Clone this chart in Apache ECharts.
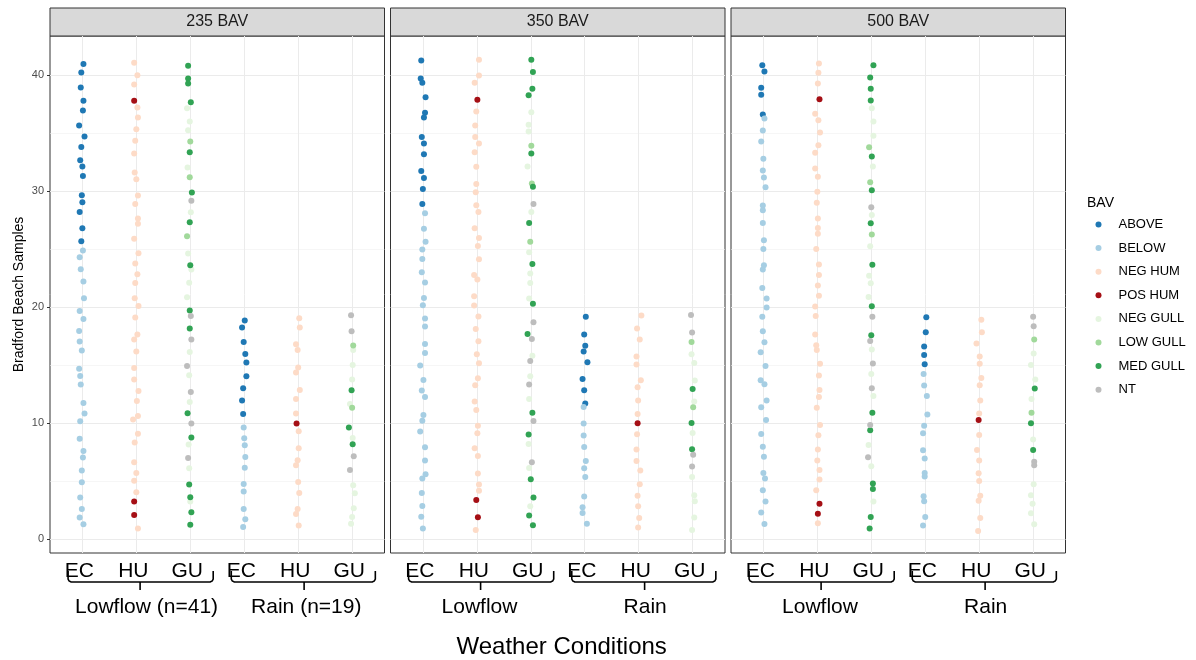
<!DOCTYPE html>
<html>
<head>
<meta charset="utf-8">
<script src="https://cdn.jsdelivr.net/npm/echarts@6/dist/echarts.min.js"></script>
<style>
html,body{margin:0;padding:0;background:#fff}
#main{width:1196px;height:660px}
</style>
</head>
<body>
<div id="main"></div>
<script>
var facetNames = ['235 BAV', '350 BAV', '500 BAV'];
var xLabels = ['EC', 'HU', 'GU', 'EC', 'HU', 'GU'];
var groupLabels = [['Lowflow (n=41)', 'Rain (n=19)'], ['Lowflow', 'Rain'], ['Lowflow', 'Rain']];
var yTicks = [0, 10, 20, 30, 40];
var yMinor = [5, 15, 25, 35];
var bavCodes = ['A', 'B', 'NH', 'PH', 'NG', 'LG', 'MG', 'NT'];
var bavNames = ['ABOVE', 'BELOW', 'NEG HUM', 'POS HUM', 'NEG GULL', 'LOW GULL', 'MED GULL', 'NT'];
var bavColors = ['#1f78b4', '#a6cee3', '#fddbc7', '#a50f15', '#e5f5e0', '#a1d99b', '#31a354', '#bdbdbd'];

// each point: [horizontal jitter, sample (jittered), BAV code]
// ---- 235 BAV ----
var lowEC235 = [[0.02,40.93,'A'],[-0.02,40.21,'A'],[-0.03,38.91,'A'],[0.02,37.77,'A'],[0.01,36.93,'A'],[-0.06,35.64,'A'],[0.04,34.69,'A'],[-0.02,33.80,'A'],[-0.04,32.65,'A'],[0,32.11,'A'],[0.01,31.30,'A'],[-0.01,29.64,'A'],[0,29.03,'A'],[-0.05,28.20,'A'],[0,26.80,'A'],[-0.02,25.67,'A'],
  [0.01,24.87,'B'],[-0.05,24.30,'B'],[-0.03,23.26,'B'],[0.02,22.20,'B'],[0.03,20.76,'B'],[-0.05,19.67,'B'],[0.02,18.98,'B'],[-0.06,17.95,'B'],[-0.05,17.03,'B'],[-0.01,16.26,'B'],[-0.06,14.68,'B'],[-0.04,14.07,'B'],[-0.03,13.33,'B'],[0.02,11.75,'B'],[0.04,10.83,'B'],[-0.04,10.17,'B'],[-0.05,8.67,'B'],[0.02,7.61,'B'],[0.01,7.04,'B'],[-0.01,5.92,'B'],[-0.01,4.91,'B'],[-0.04,3.59,'B'],[-0.01,2.61,'B'],[-0.05,1.87,'B'],[0.02,1.29,'B']];
var lowHU235 = [[-0.04,41.04,'NH'],[0.02,39.98,'NH'],[-0.04,39.17,'NH'],[-0.04,37.77,'PH'],[0.02,37.19,'NH'],[0.03,36.33,'NH'],[0,35.32,'NH'],[-0.02,34.32,'NH'],[-0.04,33.23,'NH'],[-0.03,31.59,'NH'],[0,31.02,'NH'],[0.03,29.61,'NH'],[-0.02,28.89,'NH'],[0.03,27.63,'NH'],[0.03,27.17,'NH'],[-0.04,25.88,'NH'],[0.04,24.64,'NH'],[-0.02,23.75,'NH'],[0.02,22.83,'NH'],[-0.02,22.08,'NH'],[-0.03,20.76,'NH'],[0.04,20.10,'NH'],[-0.02,19.10,'NH'],[0.02,17.63,'NH'],[-0.04,17.20,'NH'],[0,16.17,'NH'],[-0.04,14.76,'NH'],[-0.04,13.76,'NH'],[0.04,12.78,'NH'],[0.01,11.92,'NH'],[0.03,10.63,'NH'],[-0.06,10.31,'NH'],[0.03,9.10,'NH'],[-0.03,8.33,'NH'],[-0.04,6.63,'NH'],[0,5.72,'NH'],[-0.04,5.05,'NH'],[0,4.05,'NH'],[-0.04,3.25,'PH'],[-0.04,2.10,'PH'],[0.03,0.92,'NH']];
var lowGU235 = [[-0.04,40.78,'MG'],[-0.04,39.69,'MG'],[-0.04,39.26,'MG'],[0.01,37.65,'MG'],[-0.06,37.13,'NG'],[-0.01,35.98,'NG'],[-0.04,35.24,'NG'],[0,34.26,'LG'],[-0.01,33.34,'MG'],[-0.05,32.02,'NG'],[-0.01,31.19,'LG'],[0.03,29.87,'MG'],[0.02,29.15,'NT'],[0.01,28.17,'NG'],[-0.01,27.31,'MG'],[-0.06,26.11,'LG'],[-0.04,24.61,'NG'],[0,23.61,'MG'],[0.02,23.23,'NG'],[-0.02,22.09,'NG'],[-0.06,20.85,'NG'],[-0.01,19.70,'MG'],[0.01,19.24,'NT'],[-0.01,18.15,'MG'],[0.02,17.20,'NT'],[-0.01,16.14,'NG'],[-0.06,14.93,'NT'],[-0.02,14.13,'NG'],[0.01,12.69,'NT'],[-0.01,11.83,'NG'],[-0.05,10.86,'MG'],[0.02,9.97,'NT'],[0.02,8.76,'MG'],[-0.03,8.16,'NG'],[-0.04,7.01,'NT'],[-0.02,6.12,'NG'],[-0.02,4.71,'MG'],[0,3.62,'MG'],[0,3.25,'NG'],[0.02,2.33,'MG'],[0,1.26,'MG']];
var rainEC235 = [[0.01,18.84,'A'],[-0.04,18.24,'A'],[-0.01,17.00,'A'],[0.02,15.97,'A'],[0.04,15.22,'A'],[0.04,14.04,'A'],[-0.02,13.01,'A'],[-0.04,11.95,'A'],[-0.02,10.80,'A'],
  [-0.01,9.62,'B'],[0,8.70,'B'],[0.01,8.10,'B'],[0.02,7.09,'B'],[0.01,6.17,'B'],[-0.01,4.77,'B'],[-0.01,4.11,'B'],[-0.01,2.61,'B'],[0.02,1.72,'B'],[-0.02,1.06,'B']];
var rainHU235 = [[0.02,19.04,'NH'],[0.03,18.24,'NH'],[-0.04,16.80,'NH'],[-0.01,16.31,'NH'],[0,14.79,'NH'],[-0.04,14.36,'NH'],[0.03,12.87,'NH'],[-0.04,12.09,'NH'],[-0.04,10.83,'NH'],[-0.03,9.97,'PH'],[0.01,9.30,'NH'],[0.01,7.84,'NH'],[-0.01,6.81,'NH'],[-0.04,6.38,'NH'],[0,4.94,'NH'],[0.02,3.99,'NH'],[-0.01,2.61,'NH'],[-0.04,2.18,'NH'],[0.01,1.18,'NH']];
var rainGU235 = [[-0.02,19.30,'NT'],[-0.01,17.92,'NT'],[0.02,16.69,'LG'],[0.02,16.31,'NG'],[0.01,15.02,'NG'],[0,13.76,'NG'],[-0.01,12.84,'MG'],[-0.04,11.66,'NG'],[0,11.32,'LG'],[-0.06,9.62,'MG'],[0.01,8.73,'NG'],[0.01,8.18,'MG'],[0.03,7.15,'NT'],[-0.04,5.97,'NT'],[0.02,4.65,'NG'],[0.05,3.96,'NG'],[0.03,2.67,'NG'],[0,1.92,'NG'],[-0.02,1.35,'NG']];

// ---- 350 BAV ----
var lowEC350 = [[-0.03,41.24,'A'],[-0.04,39.69,'A'],[-0.01,39.32,'A'],[0.05,38.08,'A'],[0.04,36.73,'A'],[0.02,36.33,'A'],[-0.02,34.66,'A'],[0.02,34.09,'A'],[0.02,33.17,'A'],[-0.03,31.73,'A'],[0.02,31.13,'A'],[0,30.18,'A'],[-0.01,28.89,'A'],
  [0.04,28.09,'B'],[0.02,26.74,'B'],[0.05,25.62,'B'],[-0.01,24.96,'B'],[-0.01,24.15,'B'],[-0.02,23.00,'B'],[0.04,22.11,'B'],[0.02,20.79,'B'],[0,20.16,'B'],[0.04,19.01,'B'],[0.04,18.32,'B'],[0.04,16.83,'B'],[0.04,16.05,'B'],[-0.05,14.96,'B'],[0.01,13.73,'B'],[-0.02,12.81,'B'],[0.04,12.26,'B'],[0.01,10.71,'B'],[-0.01,10.22,'B'],[-0.05,9.28,'B'],[0.04,7.93,'B'],[0.04,6.78,'B'],[0.05,5.60,'B'],[-0.01,5.23,'B'],[-0.02,3.99,'B'],[-0.01,2.87,'B'],[-0.03,1.95,'B'],[0,0.92,'B']];
var lowHU350 = [[0.04,41.30,'NH'],[0.04,39.95,'NH'],[-0.04,39.32,'NH'],[0.01,37.85,'PH'],[-0.01,36.85,'NH'],[-0.03,35.64,'NH'],[-0.03,34.66,'NH'],[0.04,34.09,'NH'],[-0.04,33.34,'NH'],[-0.01,32.08,'NH'],[-0.01,30.61,'NH'],[-0.02,29.90,'NH'],[-0.01,28.78,'NH'],[0.03,28.20,'NH'],[-0.04,26.80,'NH'],[0.04,25.96,'NH'],[0.02,25.27,'NH'],[0.04,24.12,'NH'],[-0.05,22.77,'NH'],[0.01,22.37,'NH'],[-0.05,20.94,'NH'],[-0.05,20.13,'NH'],[0.03,19.18,'NH'],[-0.02,18.12,'NH'],[0.03,17.06,'NH'],[0,15.94,'NH'],[0.04,15.16,'NH'],[0.02,13.87,'NH'],[-0.03,13.27,'NH'],[-0.04,11.86,'NH'],[-0.01,11.14,'NH'],[0.02,9.79,'NH'],[0.01,9.13,'NH'],[-0.04,7.84,'NH'],[0.02,7.18,'NH'],[0.02,5.66,'NH'],[0.04,4.71,'NH'],[0.04,4.19,'NH'],[-0.01,3.39,'PH'],[0.02,1.90,'PH'],[-0.02,0.80,'NH']];
var lowGU350 = [[0.01,41.30,'MG'],[0.04,40.24,'MG'],[0.03,38.80,'MG'],[-0.04,38.25,'MG'],[0.01,36.79,'NG'],[-0.04,35.70,'NG'],[-0.04,35.12,'NG'],[0.01,33.89,'LG'],[0.01,33.23,'MG'],[-0.06,32.11,'NG'],[0.02,30.64,'LG'],[0.04,30.36,'MG'],[0.05,28.89,'NT'],[0.01,28.20,'NG'],[-0.03,27.25,'MG'],[-0.01,25.62,'LG'],[-0.03,24.73,'NG'],[0.03,23.72,'MG'],[-0.01,22.89,'NG'],[-0.01,22.08,'NG'],[-0.03,20.74,'NG'],[0.04,20.28,'MG'],[0.05,18.70,'NT'],[-0.06,17.69,'MG'],[0.02,17.26,'NT'],[0.03,15.82,'NG'],[-0.01,15.36,'NT'],[-0.01,14.04,'NG'],[-0.03,13.33,'NT'],[-0.03,12.09,'NG'],[0.03,10.91,'MG'],[0.05,10.20,'NT'],[-0.04,9.02,'MG'],[-0.04,8.21,'NG'],[0.02,6.63,'NT'],[-0.03,6.15,'NG'],[0,5.17,'MG'],[0.05,3.59,'MG'],[-0.01,2.84,'NG'],[-0.03,2.04,'MG'],[0.04,1.21,'MG']];
var rainEC350 = [[0.02,19.16,'A'],[-0.01,17.63,'A'],[0.01,16.66,'A'],[-0.02,16.17,'A'],[0.05,15.25,'A'],[-0.04,13.81,'A'],[-0.01,12.84,'A'],[0.01,11.69,'A'],
  [-0.02,11.40,'B'],[-0.02,9.97,'B'],[-0.02,8.93,'B'],[-0.01,7.96,'B'],[0.02,6.75,'B'],[-0.01,6.12,'B'],[0.01,5.37,'B'],[-0.01,3.68,'B'],[-0.04,2.76,'B'],[-0.04,2.27,'B'],[0.04,1.35,'B']];
var rainHU350 = [[0.05,19.27,'NH'],[-0.03,18.15,'NH'],[0.02,17.20,'NH'],[-0.04,15.74,'NH'],[-0.04,15.05,'NH'],[0.04,13.70,'NH'],[-0.02,13.10,'NH'],[-0.01,11.95,'NH'],[-0.02,10.80,'NH'],[-0.02,9.99,'PH'],[-0.03,9.05,'NH'],[-0.04,7.73,'NH'],[-0.04,6.75,'NH'],[0.03,5.92,'NH'],[0.02,4.74,'NH'],[-0.02,3.76,'NH'],[-0.01,2.84,'NH'],[0.01,1.84,'NH'],[-0.01,1.01,'NH']];
var rainGU350 = [[-0.03,19.33,'NT'],[-0.01,17.81,'NT'],[-0.02,17.00,'LG'],[-0.02,15.94,'NG'],[0.03,15.19,'NG'],[0.04,13.67,'NG'],[0,12.95,'MG'],[0.03,11.86,'NG'],[0.01,11.37,'LG'],[-0.02,10.02,'MG'],[0,9.16,'NG'],[-0.01,7.75,'MG'],[0.01,7.29,'NT'],[-0.01,6.26,'NT'],[-0.01,5.37,'NG'],[0.03,3.79,'NG'],[0.04,3.27,'NG'],[0.03,1.87,'NG'],[-0.01,0.80,'NG']];

// ---- 500 BAV ----
var lowEC500 = [[-0.02,40.84,'A'],[0.02,40.29,'A'],[-0.04,38.89,'A'],[-0.04,38.28,'A'],[-0.01,36.59,'A'],
  [0.02,36.24,'B'],[-0.01,35.21,'B'],[-0.04,34.26,'B'],[0,32.77,'B'],[-0.01,31.76,'B'],[0.01,31.16,'B'],[0.04,30.33,'B'],[-0.01,28.75,'B'],[-0.01,28.35,'B'],[-0.01,27.25,'B'],[0.01,25.76,'B'],[0,25.01,'B'],[0.01,23.61,'B'],[-0.01,23.23,'B'],[-0.02,21.65,'B'],[0.06,20.74,'B'],[0.06,19.96,'B'],[-0.02,19.16,'B'],[-0.01,17.92,'B'],[0.02,16.97,'B'],[-0.05,16.11,'B'],[0.04,14.93,'B'],[-0.05,13.70,'B'],[0.02,13.35,'B'],[0.06,11.95,'B'],[-0.04,11.37,'B'],[0.05,10.28,'B'],[-0.04,9.08,'B'],[-0.01,7.98,'B'],[0.01,7.12,'B'],[0,5.72,'B'],[0.03,5.23,'B'],[-0.01,4.22,'B'],[0.04,3.25,'B'],[-0.04,2.30,'B'],[0.02,1.32,'B']];
var lowHU500 = [[0.03,40.98,'NH'],[0.02,40.18,'NH'],[0.01,39.26,'NH'],[0.04,37.91,'PH'],[-0.04,36.65,'NH'],[0.02,36.10,'NH'],[0.05,35.04,'NH'],[0.02,33.95,'NH'],[-0.04,33.29,'NH'],[-0.04,31.94,'NH'],[0.01,31.22,'NH'],[0,29.93,'NH'],[-0.01,28.98,'NH'],[0.01,27.63,'NH'],[0.01,26.82,'NH'],[0.01,26.31,'NH'],[-0.02,25.01,'NH'],[0.03,23.66,'NH'],[0.03,22.77,'NH'],[0.01,21.86,'NH'],[0.03,20.97,'NH'],[-0.04,20.05,'NH'],[-0.03,19.24,'NH'],[-0.04,17.63,'NH'],[-0.02,16.71,'NH'],[-0.01,16.31,'NH'],[0.05,15.11,'NH'],[0.03,14.10,'NH'],[0.04,12.87,'NH'],[0.03,12.26,'NH'],[-0.01,11.34,'NH'],[0.05,9.85,'NH'],[0.02,8.96,'NH'],[0.01,7.73,'NH'],[0,6.78,'NH'],[0.04,5.97,'NH'],[0.04,5.14,'NH'],[-0.02,4.22,'NH'],[0.04,3.07,'PH'],[0.01,2.21,'PH'],[0.01,1.38,'NH']];
var lowGU500 = [[0.04,40.84,'MG'],[-0.02,39.78,'MG'],[-0.01,38.80,'MG'],[-0.01,37.79,'MG'],[0.01,37.13,'NG'],[0.04,35.98,'NG'],[0.04,34.75,'NG'],[-0.04,33.77,'LG'],[0.01,32.97,'MG'],[0.03,32.11,'NG'],[-0.02,30.76,'LG'],[0.01,30.07,'MG'],[0,28.60,'NT'],[0.01,27.94,'NG'],[-0.01,27.23,'MG'],[0.01,26.25,'LG'],[-0.02,25.24,'NG'],[0.02,23.64,'MG'],[-0.04,22.69,'NG'],[-0.01,22.06,'NG'],[-0.05,20.88,'NG'],[0.01,20.07,'MG'],[0.02,19.16,'NT'],[0,17.58,'MG'],[-0.02,17.09,'NT'],[0.01,16.34,'NG'],[0.03,15.14,'NT'],[0,14.24,'NG'],[0.01,13.01,'NT'],[0.04,12.35,'NG'],[0.02,10.91,'MG'],[-0.02,9.85,'NT'],[-0.02,9.39,'MG'],[-0.05,8.13,'NG'],[-0.06,7.06,'NT'],[0,6.29,'NG'],[0.03,4.80,'MG'],[0.03,4.34,'MG'],[0.04,3.25,'NG'],[-0.01,1.92,'MG'],[-0.03,0.92,'MG']];
var rainEC500 = [[0.02,19.13,'A'],[0.01,17.83,'A'],[-0.02,16.60,'A'],[-0.02,15.88,'A'],[-0.01,15.08,'A'],
  [-0.03,14.24,'B'],[-0.02,13.24,'B'],[0.03,12.35,'B'],[0.04,10.74,'B'],[-0.02,9.79,'B'],[-0.04,9.13,'B'],[-0.04,7.67,'B'],[-0.01,6.95,'B'],[-0.01,5.72,'B'],[-0.01,5.40,'B'],[-0.03,3.70,'B'],[-0.02,3.27,'B'],[0,1.92,'B'],[-0.04,1.18,'B']];
var rainHU500 = [[0.04,18.90,'NH'],[0.05,17.83,'NH'],[-0.05,16.86,'NH'],[0.01,15.74,'NH'],[0.01,15.11,'NH'],[0.04,13.90,'NH'],[0.01,13.27,'NH'],[0.02,11.95,'NH'],[0,10.83,'NH'],[-0.01,10.28,'PH'],[0,8.99,'NH'],[-0.04,7.70,'NH'],[0,6.78,'NH'],[-0.01,5.69,'NH'],[0,5.03,'NH'],[0.02,3.76,'NH'],[-0.01,3.33,'NH'],[0.02,1.84,'NH'],[-0.02,0.72,'NH']];
var rainGU500 = [[0,19.16,'NT'],[0.01,18.35,'NT'],[0.02,17.20,'LG'],[0.01,16.00,'NG'],[-0.04,15.02,'NG'],[0.04,13.76,'NG'],[0.03,12.98,'MG'],[-0.03,12.09,'NG'],[-0.03,10.91,'LG'],[-0.04,9.99,'MG'],[0,8.59,'NG'],[0,7.70,'MG'],[0.02,6.69,'NT'],[0.02,6.38,'NT'],[0.01,4.74,'NG'],[-0.04,3.79,'NG'],[-0.01,3.07,'NG'],[-0.04,2.24,'NG'],[0.02,1.29,'NG']];

var columns = [
  [lowEC235, lowHU235, lowGU235, rainEC235, rainHU235, rainGU235],
  [lowEC350, lowHU350, lowGU350, rainEC350, rainHU350, rainGU350],
  [lowEC500, lowHU500, lowGU500, rainEC500, rainHU500, rainGU500]
];

var FONT = 'Liberation Sans';
var gridLeft = [50, 390.5, 731];
var gridW = 334.5, gridTop = 36, gridH = 517;
var catPos = xLabels.map(function (l, i) { return i + 1; });

var myChart = echarts.init(document.getElementById('main'));

var grids = [], xAxes = [], yAxes = [], series = [];
facetNames.forEach(function (f, g) {
  grids.push({left: gridLeft[g], top: gridTop, width: gridW, height: gridH,
    show: true, borderColor: '#333', borderWidth: 1, backgroundColor: '#fff'});
  xAxes.push({
    gridIndex: g, type: 'value', min: 0.4, max: 6.6,
    axisLine: {show: false}, axisTick: {show: false}, splitLine: {show: false},
    axisLabel: {
      customValues: catPos,
      formatter: function (v) { return xLabels[Math.round(v) - 1]; },
      fontSize: 21, color: '#000', fontFamily: FONT, margin: 8, padding: [0, 6, 0, 0]
    }
  });
  yAxes.push({
    gridIndex: g, type: 'value', min: -1.18, max: 43.35,
    axisLine: {show: false}, splitLine: {show: false},
    axisTick: {show: g === 0, customValues: yTicks, length: 3, lineStyle: {color: '#333'}},
    axisLabel: {show: g === 0, customValues: yTicks, fontSize: 11, color: '#4d4d4d', fontFamily: FONT, margin: 6},
    name: g === 0 ? 'Bradford Beach Samples' : '',
    nameLocation: 'middle', nameGap: 24,
    nameTextStyle: {fontSize: 14, color: '#000', fontFamily: FONT}
  });

  // panel grid lines, kept under the points
  var lines = [];
  yTicks.forEach(function (v) { lines.push({yAxis: v, lineStyle: {color: '#ebebeb', width: 1, type: 'solid'}}); });
  yMinor.forEach(function (v) { lines.push({yAxis: v, lineStyle: {color: '#f0f0f0', width: 0.6, type: 'solid'}}); });
  catPos.forEach(function (v) { lines.push({xAxis: v, lineStyle: {color: '#ebebeb', width: 1, type: 'solid'}}); });
  series.push({
    type: 'scatter', xAxisIndex: g, yAxisIndex: g, data: [], silent: true, z: 1,
    markLine: {silent: true, z: 1, symbol: ['none', 'none'], label: {show: false}, animation: false, data: lines}
  });

  bavCodes.forEach(function (code, k) {
    var pts = [];
    columns[g].forEach(function (col, c) {
      col.forEach(function (p) {
        if (p[2] === code) pts.push([c + 1 + p[0], p[1]]);
      });
    });
    series.push({
      name: bavNames[k], type: 'scatter', xAxisIndex: g, yAxisIndex: g,
      data: pts, symbolSize: 6, z: 3,
      itemStyle: {color: bavColors[k], opacity: 1}
    });
  });
});

var option = {
  animation: false,
  textStyle: {fontFamily: FONT},
  grid: grids,
  xAxis: xAxes,
  yAxis: yAxes,
  legend: {
    data: bavNames, orient: 'vertical', left: 1095.5, top: 217.5, padding: 0,
    icon: 'circle', itemWidth: 30, itemHeight: 6, itemGap: 9.6,
    textStyle: {fontSize: 13, color: '#000', lineHeight: 14, fontFamily: FONT},
    selectedMode: false
  },
  series: series
};
myChart.setOption(option);

// strips, braces, group labels, titles
var graphics = [];
facetNames.forEach(function (f, g) {
  graphics.push({type: 'rect', shape: {x: gridLeft[g], y: 8, width: gridW, height: 28},
    style: {fill: '#d9d9d9', stroke: '#333', lineWidth: 1}, silent: true});
  graphics.push({type: 'text', silent: true, style: {text: f, x: gridLeft[g] + gridW / 2, y: 22,
    fill: '#1a1a1a', fontSize: 16, fontFamily: FONT, align: 'center', verticalAlign: 'middle'}});

  var px = function (v) { return myChart.convertToPixel({gridIndex: g}, [v, 0])[0]; };
  var braces = [[0.735, 3.425, 2.07], [3.76, 6.43, 5.11]];
  var textPos = g === 0 ? [2.19, 5.15] : [2.05, 5.12];
  braces.forEach(function (b, i) {
    var x0 = px(b[0]), x1 = px(b[1]), xm = px(b[2]);
    graphics.push({type: 'polyline', silent: true,
      shape: {points: [[x0, 571], [x0, 579], [x0 + 1, 581], [x0 + 3, 582], [x1 - 3, 582], [x1 - 1, 581], [x1, 579], [x1, 571]]},
      style: {stroke: '#000', lineWidth: 1.6, fill: null}});
    graphics.push({type: 'line', silent: true, shape: {x1: xm, y1: 582, x2: xm, y2: 590},
      style: {stroke: '#000', lineWidth: 1.6}});
    graphics.push({type: 'text', silent: true, style: {text: groupLabels[g][i], x: px(textPos[i]), y: 607,
      fill: '#000', fontSize: 21, fontFamily: FONT, align: 'center', verticalAlign: 'middle'}});
  });
});
graphics.push({type: 'text', silent: true, style: {text: 'Weather Conditions', x: 561.7, y: 647,
  fill: '#000', fontSize: 24, fontFamily: FONT, align: 'center', verticalAlign: 'middle'}});
graphics.push({type: 'text', silent: true, style: {text: 'BAV', x: 1087, y: 203,
  fill: '#000', fontSize: 14, fontFamily: FONT, align: 'left', verticalAlign: 'middle'}});
myChart.setOption({graphic: {elements: graphics}});
</script>
</body>
</html>
